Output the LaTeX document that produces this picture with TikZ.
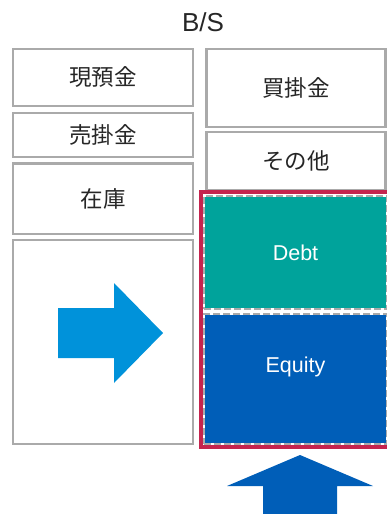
\documentclass[tikz,border=0pt]{standalone}
\usepackage{fontspec}
\setmainfont{Liberation Sans}
\newfontfamily\jpfont{Noto Sans CJK JP}
\definecolor{boxgray}{HTML}{AAAAAA}
\definecolor{debtteal}{HTML}{00A39B}
\definecolor{eqblue}{HTML}{005EB8}
\definecolor{arrblue}{HTML}{0092DA}
\definecolor{frame}{HTML}{C4244E}
\tikzset{
  gbox/.style={draw=boxgray, line width=2.3pt, fill=white, rectangle, inner sep=0pt,
    font=\jpfont\fontsize{22.5}{26}\selectfont, text=black!85},
  fbox/.style={draw=white, line width=2pt, rectangle, inner sep=0pt,
    postaction={draw=boxgray, line width=2pt, dash pattern=on 7pt off 3pt},
    font=\fontsize{21.5}{25}\selectfont, text=white},
  wtext/.style={font=\fontsize{21.5}{25}\selectfont, text=white, inner sep=0pt},
}
\begin{document}
\begin{tikzpicture}[x=1pt,y=-1pt]
\useasboundingbox (0,0) rectangle (387,514);
\clip (0,0) rectangle (387,514);
\node[font=\fontsize{26}{30}\selectfont, text=black!85] (title) at (203,22) {B/S};
% left column
\node[gbox, minimum width=180pt, minimum height=57pt] (cash) at (103,77.5) {現預金};
\node[gbox, minimum width=180pt, minimum height=44pt] (ar) at (103,135) {売掛金};
\node[gbox, minimum width=180pt, minimum height=70.5pt] (inv) at (103,198.75) {在庫};
\node[gbox, minimum width=180pt, minimum height=204pt] (arrbox) at (103,342) {};
% right column
\node[gbox, minimum width=179pt, minimum height=78pt] (ap) at (296,88) {買掛金};
\node[gbox, minimum width=179pt, minimum height=57.5pt] (other) at (296,161) {その他};
% red frame
\node[draw=frame, line width=4pt, rectangle, inner sep=0pt, minimum width=188.5pt, minimum height=255pt] (frame) at (294.75,319.5) {};
% debt and equity
\node[fbox, fill=debtteal, minimum width=183pt, minimum height=113pt] (debt) at (295.5,252.5) {Debt};
\node[fbox, fill=eqblue, minimum width=183pt, minimum height=130pt] (equity) at (295.5,379) {};
\node[wtext] (equitytext) at (295.5,367) {Equity};
% arrows
\fill[arrblue] (58,308) -- (114,308) -- (114,283) -- (163,333) -- (114,383) -- (114,358) -- (58,358) -- cycle;
\fill[eqblue] (300,455) -- (373,486) -- (337,486) -- (337,516) -- (263,516) -- (263,486) -- (227,486) -- cycle;
\end{tikzpicture}
\end{document}
